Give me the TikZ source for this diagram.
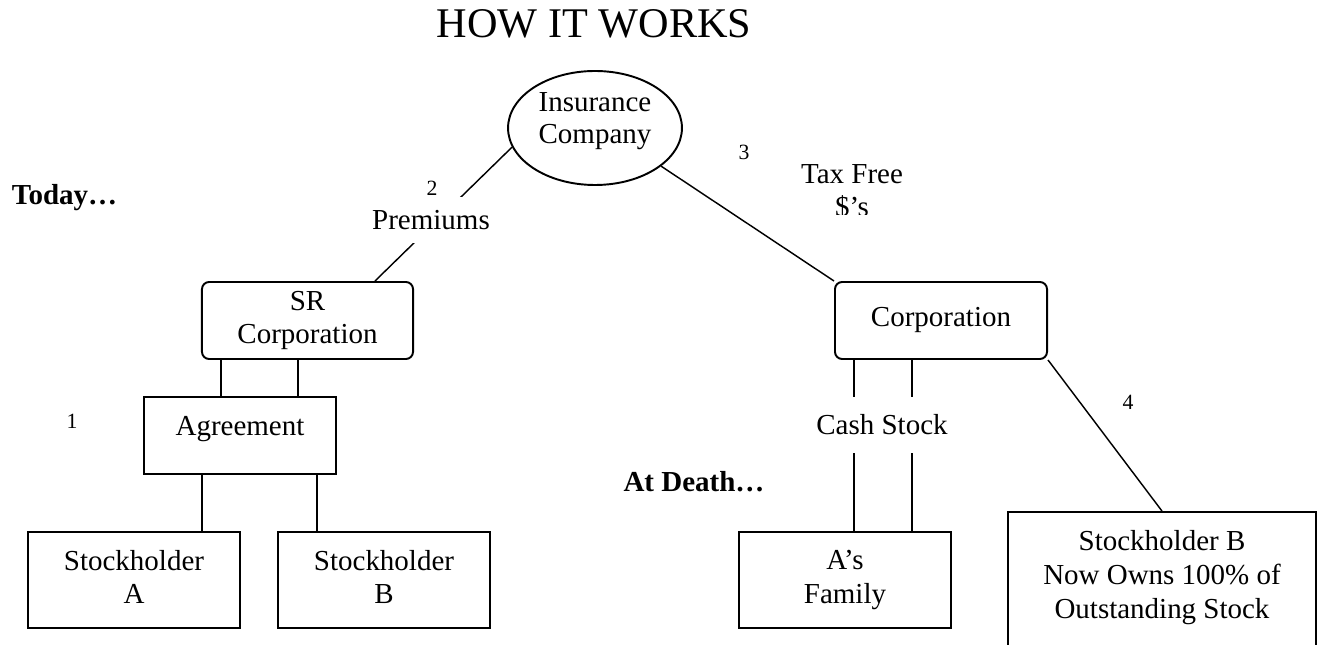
\documentclass[tikz,border=0pt]{standalone}
\usepackage{fontspec}
\setmainfont{Liberation Serif}
\usepackage{tikz}
\usetikzlibrary{shapes.geometric}

\begin{document}
\begin{tikzpicture}[x=0.414pt, y=-0.414pt,
        box/.style={draw, line width=0.8pt, align=center, text depth=2.6pt, font=\fontsize{12}{14}\selectfont},
        rbox/.style={box, rounded corners=3pt},
        gap/.style={fill=white, inner sep=1pt, font=\fontsize{12}{14}\selectfont},
        num/.style={inner sep=0pt, font=\fontsize{9}{10}\selectfont},
        lbl/.style={inner sep=0pt, font=\fontsize{12}{14}\selectfont\bfseries},
        link/.style={line width=0.6pt}]
        \useasboundingbox (0,0) rectangle (1320,645);
        \clip (0,0) rectangle (1320,645);
        % Title
        \node[font=\fontsize{17.5}{20}\selectfont] (title) at (594,23.5) {HOW IT WORKS};
        % Insurance company on top
        \node[draw, ellipse, line width=0.8pt, minimum width=72pt, minimum height=47.2pt, inner sep=0pt,
              align=center, text depth=8pt, font=\fontsize{12}{13.3}\selectfont] (ins) at (595,128) {Insurance\\Company};
        % Today side
        \node[rbox, minimum width=87.4pt, minimum height=31.9pt] (sr) at (307.5,320.5) {SR\\Corporation};
        \node[box, minimum width=79.5pt, minimum height=31.9pt, text depth=8pt] (agr) at (240,435.5) {Agreement};
        \node[box, minimum width=87.8pt, minimum height=39.7pt] (sha) at (134,580) {Stockholder\\A};
        \node[box, minimum width=87.8pt, minimum height=39.7pt] (shb) at (384,580) {Stockholder\\B};
        % At death side
        \node[rbox, minimum width=87.8pt, minimum height=31.9pt] (corp) at (941,320.5) {Corporation};
        \node[box, minimum width=87.8pt, minimum height=39.7pt] (fam) at (845,580) {A’s\\Family};
        \node[box, minimum width=127.5pt, minimum height=77.8pt, text depth=26pt] (bnow) at (1162,606)
              {Stockholder B\\Now Owns 100\% of\\Outstanding Stock};
        % Premiums paid in
        \draw[link] (ins.193) -- (sr.north -| 375,0);
        \node[gap, minimum height=19pt] (prem) at (431,220) {Premiums};
        \draw[link] (sr.south -| 221,0) -- (agr.north -| 221,0);
        \draw[link] (sr.south -| 298,0) -- (agr.north -| 298,0);
        \draw[link] (agr.south -| 202,0) -- (sha.north -| 202,0);
        \draw[link] (agr.south -| 317,0) -- (shb.north -| 317,0);
        % Proceeds paid out
        \draw[link] (ins.330) -- (corp.north west);
        \draw[link] (corp.south -| 854,0) -- (fam.north -| 854,0);
        \draw[link] (corp.south -| 912,0) -- (fam.north -| 912,0);
        \node[gap, minimum height=23pt] (cash) at (882,425) {Cash Stock};
        \draw[link] (corp.south east) -- (bnow.north);
        \begin{scope}
            \clip (700,100) rectangle (1000,215);
            \node[align=center, font=\fontsize{12}{13.7}\selectfont] (tax) at (852,192) {Tax Free\\\$’s};
        \end{scope}
        % Step numbers and headings
        \node[num] (n1) at (72,421) {1};
        \node[num] (n2) at (432,188) {2};
        \node[num] (n3) at (744,152) {3};
        \node[num] (n4) at (1128,402) {4};
        \node[lbl] (today) at (64.5,197.5) {Today…};
        \node[lbl] (death) at (694,482) {At Death…};
    \end{tikzpicture}
\end{document}
